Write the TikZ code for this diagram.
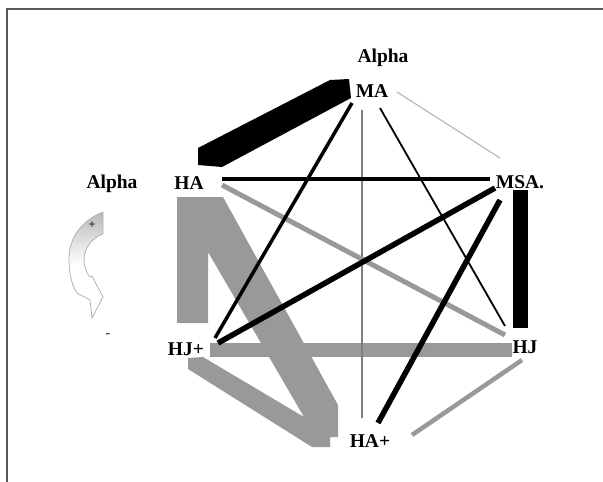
\documentclass[tikz,border=0pt]{standalone}
\usepackage{fontspec}
\setmainfont{Liberation Serif}
\definecolor{egray}{gray}{0.6}
\definecolor{tgray}{gray}{0.5}
\definecolor{lgray}{gray}{0.72}
\definecolor{framegray}{gray}{0.35}
\begin{document}
\begin{tikzpicture}[x=1pt,y=-1pt,
  lbl/.style={font=\bfseries\fontsize{19.5}{20}\selectfont, inner sep=0pt, anchor=base},
  blk/.style={draw=black, line width=#1},
  gry/.style={draw=egray, line width=#1},
  bandblack/.style={fill=black},
  bandgray/.style={fill=egray}]
\useasboundingbox (0,0) rectangle (603,482);
% frame
\draw[framegray, line width=1.6] (7,482) -- (7,9) -- (603,9);

% labels
\node[lbl] (alphaT) at (383,62) {Alpha};
\node[lbl] (MA) at (372,97) {MA};
\node[lbl] (HA) at (189,189) {HA};
\node[lbl] (alphaL) at (112,188) {Alpha};
\node[lbl] (MSA) at (520,188) {MSA.};
\node[lbl] (HJp) at (186,355) {HJ+};
\node[lbl] (HJ) at (525,353) {HJ};
\node[lbl] (HAp) at (370,447) {HA+};

% connector end points
\coordinate (MA-a) at (352,103);  \coordinate (HJp-a) at (215,338);
\coordinate (MA-b) at (362,110);  \coordinate (HAp-b) at (362,418);
\coordinate (MA-c) at (380,108);  \coordinate (HJ-c) at (505,326);
\coordinate (MA-d) at (397,92);   \coordinate (MSA-d) at (500,158);
\coordinate (HA-e) at (222,179);  \coordinate (MSA-e) at (490,179);
\coordinate (HA-f) at (222,185);  \coordinate (HJ-f) at (505,335);
\coordinate (MSA-g) at (495,188); \coordinate (HJp-g) at (218,343);
\coordinate (MSA-h) at (500,200); \coordinate (HAp-h) at (378,423);
\coordinate (HJ-i) at (522,360);  \coordinate (HAp-i) at (412,435);

% HA -- MA thick black band
\fill[bandblack] (198,148) -- (330,80) -- (349,79) -- (351,98) -- (222,167) -- (198,165) -- cycle;
% MSA -- HJ thick black bar
\fill[bandblack] (513,190) rectangle (528,328);
% HJ+ -- HJ thick gray bar
\fill[bandgray] (210,343) rectangle (512,357);
% HA -- HJ+, HA -- HA+, HJ+ -- HA+ gray bands
\fill[bandgray] (177,197) -- (223,197) -- (338,405) -- (338,437) -- (330,437) -- (330,447)
  -- (312,447) -- (188,369) -- (188,358) -- (203,357) -- (304,417) -- (208,252)
  -- (208,323) -- (177,323) -- cycle;

% thinner connectors
\draw[draw=lgray, line width=1.2] (MA-d) -- (MSA-d);
\draw[draw=tgray, line width=1.6] (MA-b) -- (HAp-b);
\draw[blk=1.8] (MA-c) -- (HJ-c);
\draw[gry=5] (HA-f) -- (HJ-f);
\draw[blk=4.5] (HA-e) -- (MSA-e);
\draw[blk=3.5] (MA-a) -- (HJp-a);
\draw[blk=5.5] (MSA-g) -- (HJp-g);
\draw[blk=5.5] (MSA-h) -- (HAp-h);
\draw[gry=4.5] (HJ-i) -- (HAp-i);

% alpha sign arrow
\shade[top color=gray!55, bottom color=white, middle color=white, draw=gray!60, line width=0.8]
  (103,212) -- (103,234) .. controls (92,238) and (84,248) .. (84,260)
  .. controls (84,266) and (86,272) .. (90,277) -- (92,276) -- (103,297) -- (92,318)
  -- (90,300) -- (77,293) .. controls (72,285) and (69,275) .. (69,258)
  .. controls (69,238) and (82,220) .. (103,212) -- cycle;
\node[font=\bfseries\fontsize{12}{12}\selectfont, text=gray!20!black, inner sep=0pt] (plus) at (92,225) {+};
\node[font=\bfseries\fontsize{14}{14}\selectfont, text=gray!40!black, inner sep=0pt] (minus) at (108,336) {-};
\end{tikzpicture}
\end{document}
